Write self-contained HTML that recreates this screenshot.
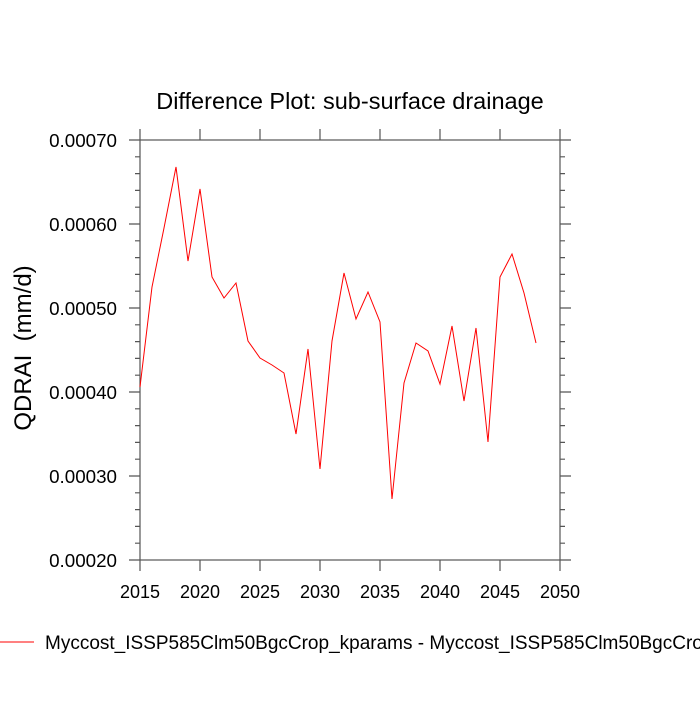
<!DOCTYPE html>
<html><head><style>body{margin:0;background:#fff}</style></head><body>
<svg width="700" height="700" xmlns="http://www.w3.org/2000/svg" font-family="Liberation Sans, sans-serif">
<rect width="700" height="700" fill="#fff"/>
<text x="350" y="109" font-size="23.5" text-anchor="middle">Difference Plot: sub-surface drainage</text>
<rect x="140" y="140" width="420" height="420" fill="none" stroke="#555" stroke-width="1.2"/>
<g stroke="#555" stroke-width="1.2">
<path d="M140,140h-11M140,224h-11M140,308h-11M140,392h-11M140,476h-11M140,560h-11
M560,140h11M560,224h11M560,308h11M560,392h11M560,476h11M560,560h11
M140,560v11M200,560v11M260,560v11M320,560v11M380,560v11M440,560v11M500,560v11M560,560v11
M140,140v-11M200,140v-11M260,140v-11M320,140v-11M380,140v-11M440,140v-11M500,140v-11M560,140v-11"/>
<path d="M140,156.8h-5M140,173.6h-5M140,190.4h-5M140,207.2h-5M140,240.8h-5M140,257.6h-5M140,274.4h-5M140,291.2h-5M140,324.8h-5M140,341.6h-5M140,358.4h-5M140,375.2h-5M140,408.8h-5M140,425.6h-5M140,442.4h-5M140,459.2h-5M140,492.8h-5M140,509.6h-5M140,526.4h-5M140,543.2h-5
M560,156.8h5M560,173.6h5M560,190.4h5M560,207.2h5M560,240.8h5M560,257.6h5M560,274.4h5M560,291.2h5M560,324.8h5M560,341.6h5M560,358.4h5M560,375.2h5M560,408.8h5M560,425.6h5M560,442.4h5M560,459.2h5M560,492.8h5M560,509.6h5M560,526.4h5M560,543.2h5"/>
</g>
<g font-size="18.8" text-anchor="end">
<text x="117" y="147">0.00070</text><text x="117" y="231">0.00060</text><text x="117" y="315">0.00050</text>
<text x="117" y="399">0.00040</text><text x="117" y="483">0.00030</text><text x="117" y="567">0.00020</text>
</g>
<g font-size="18" text-anchor="middle">
<text x="140" y="598">2015</text><text x="200" y="598">2020</text><text x="260" y="598">2025</text><text x="320" y="598">2030</text>
<text x="380" y="598">2035</text><text x="440" y="598">2040</text><text x="500" y="598">2045</text><text x="560" y="598">2050</text>
</g>
<text transform="translate(31,348) rotate(-90)" font-size="24" text-anchor="middle" xml:space="preserve">QDRAI  (mm/d)</text>
<polyline fill="none" stroke="#f00" stroke-width="1" points="140,387 152,287 164,228 176,167 188,261 200,189 212,277 224,298 236,283 248,341 260,358 272,365 284,373 296,434 308,349 320,469 332,341 344,273 356,319 368,292 380,322 392,499 404,383 416,343 428,351 440,384 452,326 464,401 476,328 488,442 500,277 512,254 524,293 536,343"/>
<line x1="0" y1="642" x2="34" y2="642" stroke="#f00" stroke-width="1"/>
<text x="45" y="649" font-size="19">Myccost_ISSP585Clm50BgcCrop_kparams - Myccost_ISSP585Clm50BgcCrop</text>
</svg>
</body></html>
